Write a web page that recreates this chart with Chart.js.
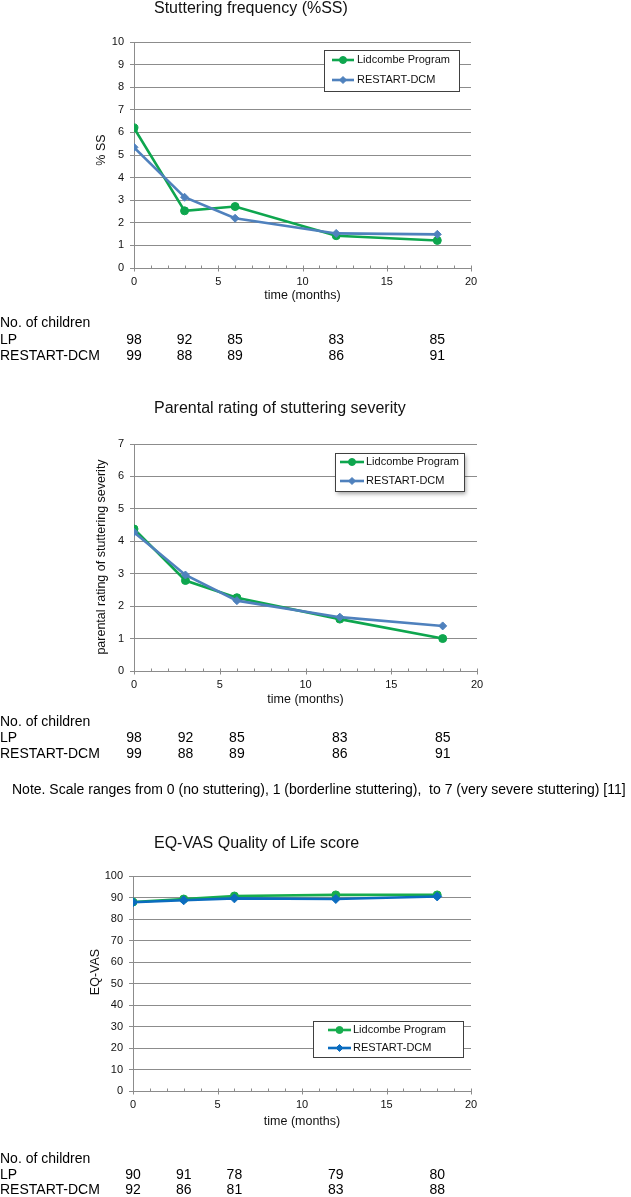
<!DOCTYPE html>
<html>
<head>
<meta charset="utf-8">
<script src="https://cdn.jsdelivr.net/npm/chart.js@4.4.0/dist/chart.umd.min.js"></script>
<style>
html,body{margin:0;padding:0;background:#fff;width:631px;height:1197px;overflow:hidden}
.wrap{position:absolute;left:0;width:631px}
canvas{display:block}
</style>
</head>
<body>
<div class="wrap" style="top:0px;height:370px"><canvas id="c1" width="631" height="370"></canvas></div>
<div class="wrap" style="top:370px;height:440px"><canvas id="c2" width="631" height="440"></canvas></div>
<div class="wrap" style="top:810px;height:387px"><canvas id="c3" width="631" height="387"></canvas></div>
<script>
// ---------- data ----------
const months = [0, 3, 6, 12, 18];
const seriesNames = ['Lidcombe Program', 'RESTART-DCM'];

const ssLP = [6.2, 2.53, 2.72, 1.43, 1.22];
const ssRD = [5.34, 3.13, 2.2, 1.53, 1.49];

const sevLP = [4.38, 2.79, 2.26, 1.6, 1.0];
const sevRD = [4.28, 2.96, 2.17, 1.66, 1.39];

const vasLP = [87.9, 89.3, 90.7, 91.2, 91.2];
const vasRD = [87.8, 88.7, 89.6, 89.3, 90.5];

const nSsLP = [98, 92, 85, 83, 85];
const nSsRD = [99, 88, 89, 86, 91];
const nSevLP = [98, 92, 85, 83, 85];
const nSevRD = [99, 88, 89, 86, 91];
const nVasLP = [90, 91, 78, 79, 80];
const nVasRD = [92, 86, 81, 83, 88];

const rowLabels = ['No. of children', 'LP', 'RESTART-DCM'];
const chartTitles = ['Stuttering frequency (%SS)', 'Parental rating of stuttering severity', 'EQ-VAS Quality of Life score'];
const yTitles = ['% SS', 'parental rating of stuttering severity', 'EQ-VAS'];
const xTitle = 'time (months)';
const noteText = 'Note. Scale ranges from 0 (no stuttering), 1 (borderline stuttering),  to 7 (very severe stuttering) [11]';

// ---------- style ----------
const FONT = '"Liberation Sans", Arial, Helvetica, sans-serif';
const GRID = '#8c8c8c';
const TXT = '#111';
Chart.defaults.font.family = FONT;

function drawMarker(ctx, style, r, x, y, color) {
  ctx.save();
  ctx.fillStyle = color; ctx.strokeStyle = color; ctx.lineWidth = 1;
  ctx.beginPath();
  if (style === 'circle') {
    ctx.arc(x, y, r, 0, Math.PI * 2);
  } else {
    ctx.moveTo(x, y - r); ctx.lineTo(x + r, y); ctx.lineTo(x, y + r); ctx.lineTo(x - r, y); ctx.closePath();
  }
  ctx.fill(); ctx.stroke();
  ctx.restore();
}

const deco = {
  id: 'deco',
  afterDraw(chart, args, o) {
    const ctx = chart.ctx, xs = chart.scales.x;
    const ca = chart.chartArea;
    ctx.save();
    // chart title
    ctx.font = '16px ' + FONT;
    ctx.fillStyle = TXT; ctx.textAlign = 'left'; ctx.textBaseline = 'alphabetic';
    ctx.fillText(o.title, o.titleX, o.titleY);

    // y-axis title
    ctx.save();
    ctx.translate(o.yTitleX, o.yTitleY);
    ctx.rotate(-Math.PI / 2);
    ctx.font = '12.5px ' + FONT;
    ctx.textAlign = 'center'; ctx.textBaseline = 'middle';
    ctx.fillText(o.yTitle, 0, 0);
    ctx.restore();

    // x-axis tick marks (major crossing, minor inside)
    ctx.strokeStyle = GRID; ctx.lineWidth = 1;
    const b = Math.round(ca.bottom) + 0.5;
    for (let v = xs.min; v <= xs.max; v += 1) {
      const px = Math.round(xs.getPixelForValue(v)) + 0.5;
      ctx.beginPath();
      if (v % 5 === 0) { ctx.moveTo(px, b - 3); ctx.lineTo(px, b + 3); }
      else { ctx.moveTo(px, b - 3); ctx.lineTo(px, b); }
      ctx.stroke();
    }

    // legend
    const L = o.legend;
    ctx.save();
    if (L.shadow) {
      ctx.shadowColor = 'rgba(0,0,0,0.35)';
      ctx.shadowBlur = 4; ctx.shadowOffsetX = 2; ctx.shadowOffsetY = 3;
    }
    ctx.fillStyle = '#fff';
    ctx.fillRect(L.x, L.y, L.w, L.h);
    ctx.restore();
    ctx.strokeStyle = '#404040'; ctx.lineWidth = 1;
    ctx.strokeRect(Math.round(L.x) + 0.5, Math.round(L.y) + 0.5, Math.round(L.w), Math.round(L.h));
    ctx.font = L.fontSize + 'px ' + FONT;
    ctx.textBaseline = 'middle'; ctx.textAlign = 'left';
    chart.data.datasets.forEach((ds, i) => {
      const y = L.rows[i];
      ctx.strokeStyle = ds.borderColor; ctx.lineWidth = ds.borderWidth;
      ctx.beginPath(); ctx.moveTo(L.lx1, y); ctx.lineTo(L.lx2, y); ctx.stroke();
      drawMarker(ctx, ds.pointStyle, L.mr, (L.lx1 + L.lx2) / 2, y, ds.borderColor);
      ctx.fillStyle = TXT;
      ctx.fillText(ds.label, L.tx, y);
    });

    // table of numbers of children
    ctx.font = '14px ' + FONT;
    ctx.fillStyle = '#000'; ctx.textBaseline = 'middle';
    ctx.textAlign = 'left';
    rowLabels.forEach((t, i) => ctx.fillText(t, 0, o.rowY[i]));
    ctx.textAlign = 'center';
    o.counts.forEach((arr, r) => {
      arr.forEach((n, i) => ctx.fillText(String(n), xs.getPixelForValue(months[i]), o.rowY[r + 1]));
    });
    if (o.note) {
      ctx.textAlign = 'left';
      ctx.fillText(o.note, o.noteX, o.noteY);
    }
    ctx.restore();
  }
};

function makeChart(id, c) {
  return new Chart(document.getElementById(id), {
    type: 'line',
    data: {
      datasets: [
        { label: seriesNames[0], data: months.map((m, i) => ({ x: m, y: c.lp[i] })),
          borderColor: c.green, backgroundColor: c.green, borderWidth: 2.6,
          pointStyle: 'circle', pointRadius: 4, pointBorderWidth: 1, order: 1, tension: 0 },
        { label: seriesNames[1], data: months.map((m, i) => ({ x: m, y: c.rd[i] })),
          borderColor: c.blue, backgroundColor: c.blue, borderWidth: 2.6,
          pointStyle: 'rectRot', pointRadius: c.dRad, pointBorderWidth: 1, order: 0, tension: 0 }
      ]
    },
    options: {
      responsive: false, animation: false, devicePixelRatio: 1,
      layout: { padding: c.pad },
      plugins: {
        legend: { display: false }, tooltip: { enabled: false },
        deco: c.deco
      },
      scales: {
        x: {
          type: 'linear', min: 0, max: 20,
          ticks: { stepSize: 5, padding: 7.4, color: TXT, font: { size: 11 } },
          grid: { display: false, drawTicks: false },
          border: { display: true, color: GRID, width: 1 },
          title: { display: true, text: xTitle, color: TXT, font: { size: 12.5 }, padding: { top: 4, bottom: 4 } },
          afterFit: s => { s.height = c.xh; }
        },
        y: {
          min: 0, max: c.ymax,
          ticks: { stepSize: c.ystep, padding: 6, color: TXT, font: { size: 11 } },
          grid: { color: GRID, lineWidth: 1, tickLength: 4, drawTicks: true },
          border: { display: true, color: GRID, width: 1 },
          title: { display: false },
          afterFit: s => { s.width = c.yw; }
        }
      }
    },
    plugins: [deco]
  });
}

makeChart('c1', {
  lp: ssLP, rd: ssRD, green: '#0ea64e', blue: '#4f81bd', dRad: 4,
  ymax: 10, ystep: 1,
  pad: { left: 90.5, right: 160, top: 42, bottom: 62.5 }, xh: 39.5, yw: 43.5,
  deco: {
    title: chartTitles[0], titleX: 154, titleY: 13,
    yTitle: yTitles[0], yTitleX: 102, yTitleY: 150,
    legend: { x: 324, y: 50, w: 135, h: 41, rows: [60, 80], lx1: 332, lx2: 354, tx: 357, mr: 3.5, fontSize: 11, shadow: false },
    rowY: [323, 340, 356], counts: [nSsLP, nSsRD]
  }
});

makeChart('c2', {
  lp: sevLP, rd: sevRD, green: '#0ea64e', blue: '#4f81bd', dRad: 4,
  ymax: 7, ystep: 1,
  pad: { left: 90.5, right: 154, top: 74, bottom: 98.5 }, xh: 40.5, yw: 43.5,
  deco: {
    title: chartTitles[1], titleX: 154, titleY: 43,
    yTitle: yTitles[1], yTitleX: 102, yTitleY: 187,
    legend: { x: 335, y: 83, w: 129, h: 38, rows: [92, 111], lx1: 340, lx2: 364, tx: 366, mr: 3.5, fontSize: 11, shadow: true },
    rowY: [352, 368, 384], counts: [nSevLP, nSevRD],
    note: noteText, noteX: 12, noteY: 420
  }
});

makeChart('c3', {
  lp: vasLP, rd: vasRD, green: '#17ad4e', blue: '#0b6cbf', dRad: 4.5,
  ymax: 100, ystep: 10,
  pad: { left: 84.5, right: 160, top: 66, bottom: 63.5 }, xh: 42.5, yw: 48.5,
  deco: {
    title: chartTitles[2], titleX: 154, titleY: 38,
    yTitle: yTitles[2], yTitleX: 96, yTitleY: 162,
    legend: { x: 313, y: 211, w: 150, h: 36, rows: [220, 238], lx1: 328, lx2: 351, tx: 353, mr: 3.5, fontSize: 11, shadow: false },
    rowY: [349, 365, 380], counts: [nVasLP, nVasRD]
  }
});
</script>
</body>
</html>
